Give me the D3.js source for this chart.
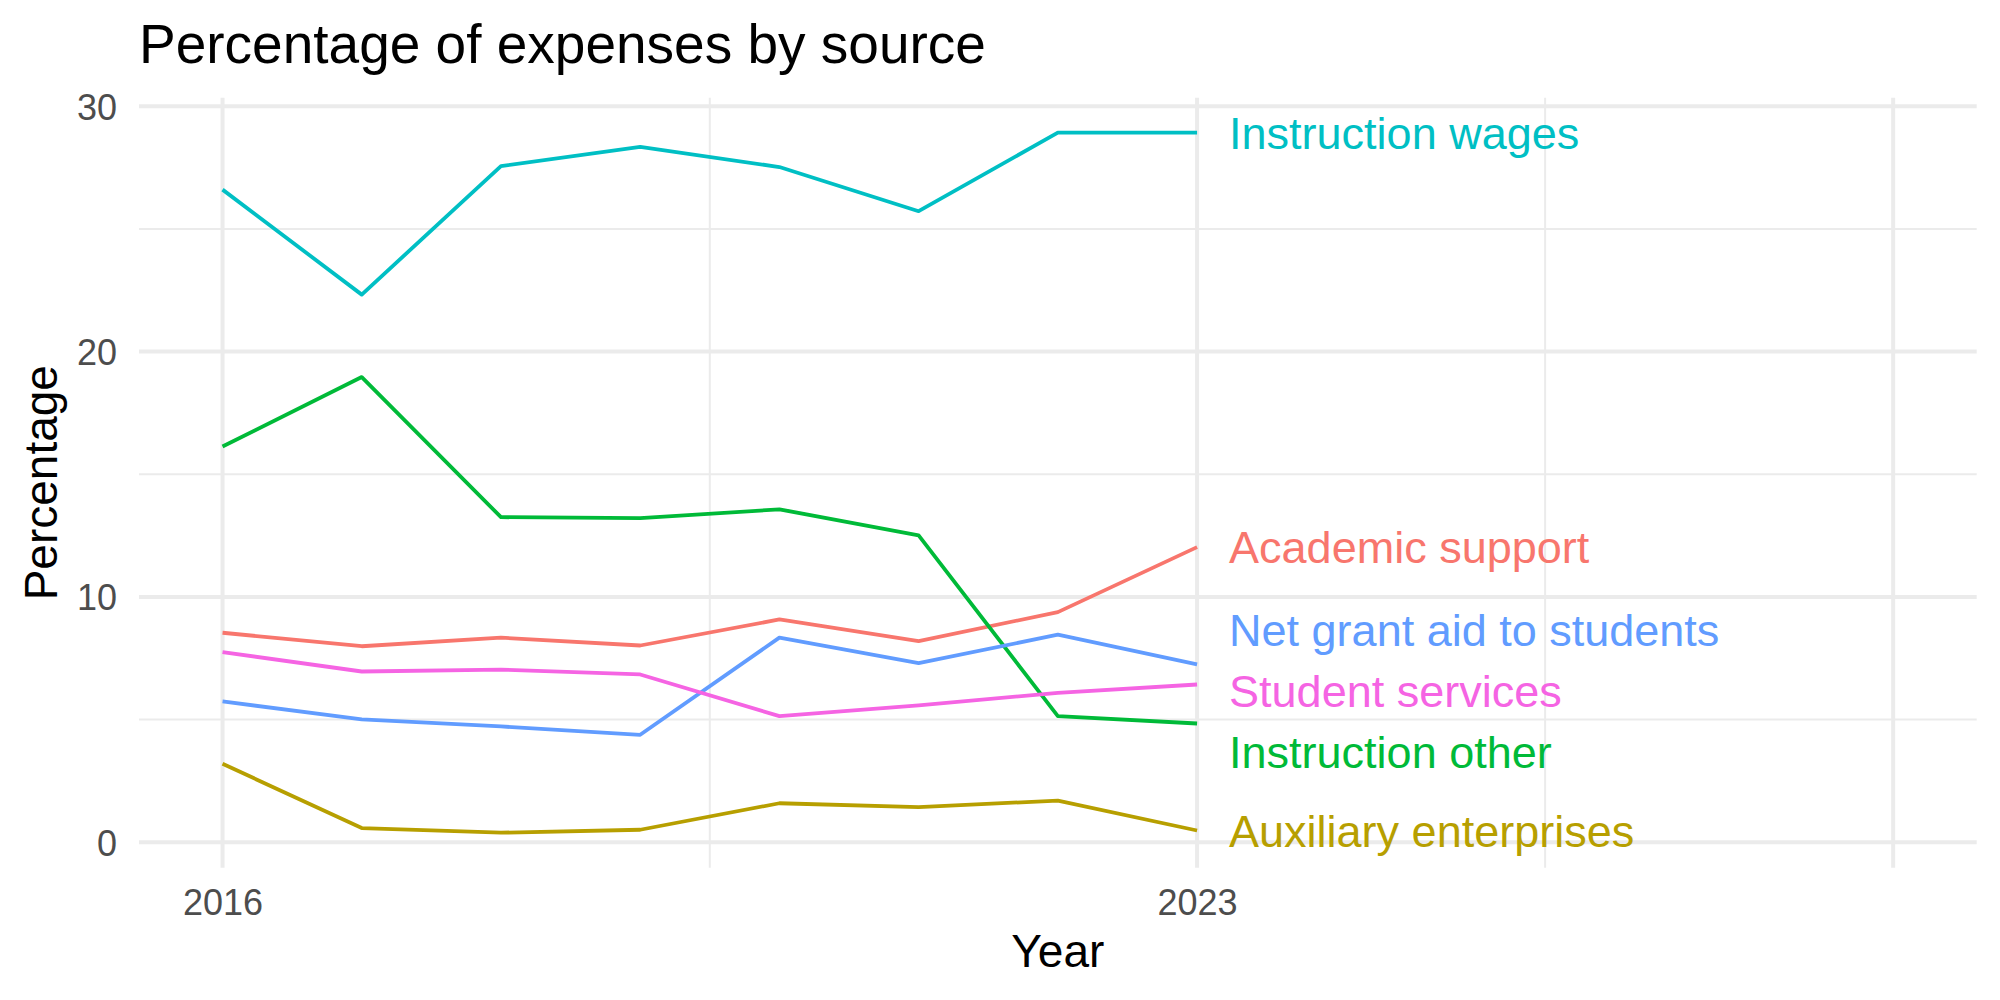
<!DOCTYPE html>
<html>
<head>
<meta charset="utf-8">
<script src="https://cdn.jsdelivr.net/npm/d3@7"></script>
<style>
  body { margin: 0; background: #fff; }
  text { font-family: "Liberation Sans", Arial, Helvetica, sans-serif; }
</style>
</head>
<body>
<svg id="chart"></svg>
<script>
const years = [2016, 2017, 2018, 2019, 2020, 2021, 2022, 2023]

const seriesNames = [
  "Academic support",
  "Auxiliary enterprises",
  "Instruction other",
  "Instruction wages",
  "Net grant aid to students",
  "Student services"
]

const academicSupport = [8.54, 7.99, 8.34, 8.02, 9.08, 8.20, 9.38, 12.03]
const auxiliaryEnterprises = [3.20, 0.58, 0.39, 0.51, 1.59, 1.43, 1.70, 0.48]
const instructionOther = [16.13, 18.96, 13.25, 13.21, 13.57, 12.51, 5.14, 4.84]
const instructionWages = [26.60, 22.32, 27.56, 28.34, 27.52, 25.72, 28.92, 28.92]
const netGrantAid = [5.74, 5.01, 4.72, 4.38, 8.34, 7.30, 8.46, 7.25]
const studentServices = [7.75, 6.96, 7.04, 6.84, 5.14, 5.58, 6.09, 6.43]

const seriesValues = [academicSupport, auxiliaryEnterprises, instructionOther,
  instructionWages, netGrantAid, studentServices]

const xBreaks = [2016, 2023, 2028]
const xLabels = ["2016", "2023", ""]
const xMinor = [2019.5, 2025.5]
const yBreaks = [0, 10, 20, 30]
const yMinor = [5, 15, 25]

const width = 2000, height = 1000
const margin = {top: 97.7, right: 23.3, bottom: 132.3, left: 139}

const svg = d3.select("#chart")
  .attr("width", width)
  .attr("height", height)

const series = seriesNames.map((name, i) => ({
  name,
  values: years.map((y, j) => ({year: y, value: seriesValues[i][j]}))
}))

const colorScale = d3.scaleOrdinal()
  .domain(seriesNames)
  .range(["#F8766D", "#B79F00", "#00BA38", "#00BFC4", "#619CFF", "#F564E3"])

// ggplot style 5% expansion
function expand(lo, hi) {
  const pad = (hi - lo) * 0.05
  return [lo - pad, hi + pad]
}

const allValues = seriesValues.flat()
const x = d3.scaleLinear()
  .domain(expand(2016, 2028))
  .range([margin.left, width - margin.right])
const y = d3.scaleLinear()
  .domain(expand(d3.min(allValues), d3.max(allValues)))
  .range([height - margin.bottom, margin.top])

const plotTop = margin.top, plotBottom = height - margin.bottom
const grid = svg.append("g")

// minor grid
grid.selectAll(".ymin").data(yMinor).enter().append("line")
  .attr("x1", margin.left).attr("x2", width - margin.right)
  .attr("y1", d => y(d)).attr("y2", d => y(d))
  .attr("stroke", "#EBEBEB").attr("stroke-width", 2)
grid.selectAll(".xmin").data(xMinor).enter().append("line")
  .attr("x1", d => x(d)).attr("x2", d => x(d))
  .attr("y1", plotTop).attr("y2", plotBottom)
  .attr("stroke", "#EBEBEB").attr("stroke-width", 2)

// major grid
grid.selectAll(".ymaj").data(yBreaks).enter().append("line")
  .attr("x1", margin.left).attr("x2", width - margin.right)
  .attr("y1", d => y(d)).attr("y2", d => y(d))
  .attr("stroke", "#EBEBEB").attr("stroke-width", 4)
grid.selectAll(".xmaj").data(xBreaks).enter().append("line")
  .attr("x1", d => x(d)).attr("x2", d => x(d))
  .attr("y1", plotTop).attr("y2", plotBottom)
  .attr("stroke", "#EBEBEB").attr("stroke-width", 4)

// axes (text only)
const xAxis = svg.append("g")
  .attr("transform", `translate(0,${plotBottom})`)
  .call(d3.axisBottom(x).tickValues(xBreaks).tickFormat((d, i) => xLabels[i]).tickSize(0).tickPadding(47))
xAxis.select(".domain").remove()
xAxis.selectAll("text")
  .attr("font-size", 36)
  .attr("fill", "#4D4D4D")
  .attr("font-family", "Liberation Sans, Arial, sans-serif")
  .attr("dy", 0)

const yAxis = svg.append("g")
  .attr("transform", `translate(${margin.left},0)`)
  .call(d3.axisLeft(y).tickValues(yBreaks).tickSize(0).tickPadding(22))
yAxis.select(".domain").remove()
yAxis.selectAll("text")
  .attr("font-size", 36)
  .attr("fill", "#4D4D4D")
  .attr("font-family", "Liberation Sans, Arial, sans-serif")
  .attr("dy", "0.36em")

// lines
const line = d3.line()
  .x(d => x(d.year))
  .y(d => y(d.value))

svg.append("g")
  .selectAll("path")
  .data(series)
  .enter().append("path")
  .attr("d", d => line(d.values))
  .attr("fill", "none")
  .attr("stroke", d => colorScale(d.name))
  .attr("stroke-width", 3.8)
  .attr("stroke-linejoin", "round")

// end labels, pushed apart a bit like ggrepel
const labelSize = 45
const minGap = labelSize * 1.36
const labels = series.map(s => {
  const last = s.values[s.values.length - 1]
  return {name: s.name, year: last.year, py: y(last.value)}
}).sort((a, b) => a.py - b.py)

for (let k = 0; k < 200; k++) {
  for (let i = 0; i < labels.length - 1; i++) {
    const gap = labels[i + 1].py - labels[i].py
    if (gap < minGap) {
      const push = (minGap - gap) / 2
      labels[i].py -= push
      labels[i + 1].py += push
    }
  }
}

svg.append("g")
  .selectAll("text")
  .data(labels)
  .enter().append("text")
  .attr("x", d => x(d.year) + 32)
  .attr("y", d => d.py)
  .attr("dy", "0.36em")
  .attr("font-size", labelSize)
  .attr("fill", d => colorScale(d.name))
  .text(d => d.name)

// titles
svg.append("text")
  .attr("x", margin.left)
  .attr("y", 62.7)
  .attr("font-size", 55)
  .attr("fill", "#000")
  .text("Percentage of expenses by source")

svg.append("text")
  .attr("x", (margin.left + width - margin.right) / 2)
  .attr("y", 966.7)
  .attr("text-anchor", "middle")
  .attr("font-size", 46)
  .attr("fill", "#000")
  .text("Year")

svg.append("text")
  .attr("transform", `translate(56.7,${(plotTop + plotBottom) / 2}) rotate(-90)`)
  .attr("text-anchor", "middle")
  .attr("font-size", 46)
  .attr("fill", "#000")
  .text("Percentage")
</script>
</body>
</html>
